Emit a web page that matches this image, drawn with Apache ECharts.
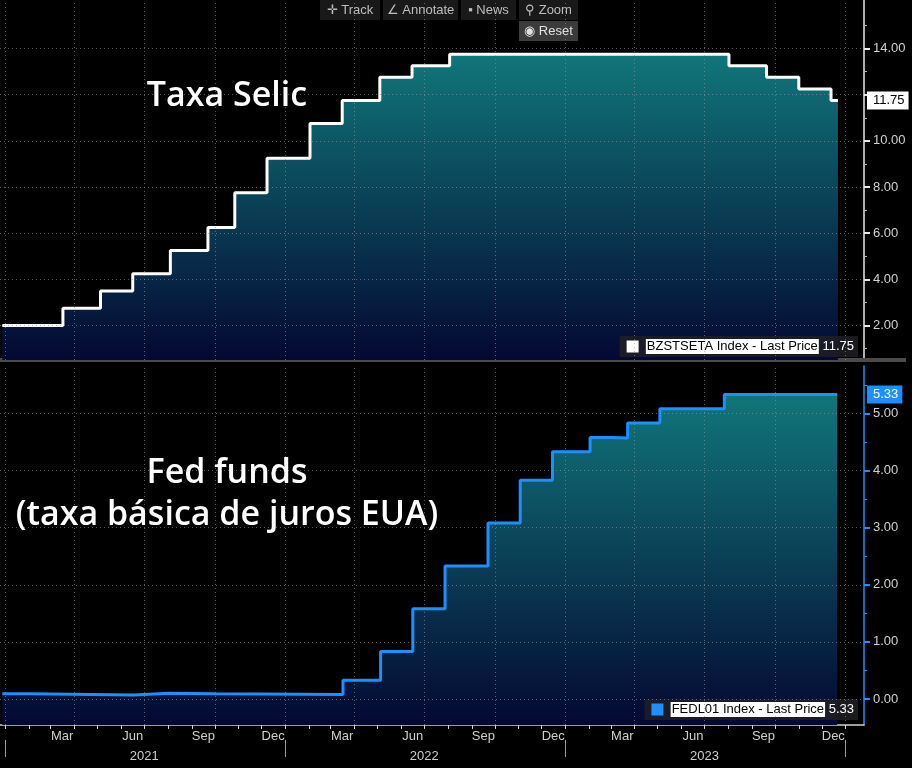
<!DOCTYPE html>
<html>
<head>
<meta charset="utf-8">
<script src="https://cdn.jsdelivr.net/npm/echarts@6/dist/echarts.min.js"></script>
<style>
html,body{margin:0;padding:0;background:#000;}
#chart{width:912px;height:768px;}
</style>
</head>
<body>
<div id="chart"></div>
<script>
// Taxa Selic (BZSTSETA) - datas de mudanca e valor
var selicDates = ['2020-12-28','2021-03-17','2021-05-05','2021-06-16','2021-08-04','2021-09-22','2021-10-27','2021-12-08',
  '2022-02-02','2022-03-16','2022-05-04','2022-06-15','2022-08-03','2023-08-02','2023-09-20','2023-11-01','2023-12-13','2023-12-22'];
var selicValues = [2.00,2.75,3.50,4.25,5.25,6.25,7.75,9.25,10.75,11.75,12.75,13.25,13.75,13.25,12.75,12.25,11.75,11.75];

// Fed funds efetivo (FEDL01)
var fedDates = ['2020-12-28','2021-02-01','2021-06-17','2021-08-02','2021-10-01','2022-03-17','2022-05-05','2022-06-16',
  '2022-07-28','2022-09-22','2022-11-03','2022-12-15','2023-02-02','2023-03-01','2023-03-23','2023-05-04','2023-07-27','2023-12-21'];
var fedValues = [0.09,0.07,0.10,0.09,0.08,0.33,0.83,1.58,2.33,3.08,3.83,4.33,4.58,4.57,4.83,5.08,5.33,5.33];

// eixos
var selicTicks = [2,4,6,8,10,12,14];
var selicLabels = [2,4,6,8,10,14];
var selicMinor = [1,3,5,7,9,11,13,15];
var fedTicks = [0,1,2,3,4,5];
var fedMinor = [0.5,1.5,2.5,3.5,4.5,5.5];
var gridDates = ['2021-01-01','2021-04-01','2021-07-01','2021-10-01','2022-01-01','2022-04-01','2022-07-01','2022-10-01',
  '2023-01-01','2023-04-01','2023-07-01','2023-10-01','2024-01-01'];
var monthLabelDates = ['2021-03-16','2021-06-16','2021-09-16','2021-12-16','2022-03-16','2022-06-16','2022-09-16','2022-12-16',
  '2023-03-16','2023-06-16','2023-09-16','2023-12-16'];
var monthNames = ['Jan','Feb','Mar','Apr','May','Jun','Jul','Aug','Sep','Oct','Nov','Dec'];
var yearLabelDates = ['2021-07-01','2022-07-01','2023-07-01'];
var yearSepDates = ['2021-01-01','2022-01-01','2023-01-01','2024-01-01'];

var monthStarts = [];
for (var y = 2021; y <= 2023; y++) {
  for (var m = 1; m <= 12; m++) monthStarts.push(y + '-' + (m < 10 ? '0' + m : m) + '-01');
}
monthStarts.push('2024-01-01');

var selicName = 'BZSTSETA Index - Last Price';
var fedName = 'FEDL01 Index - Last Price';
var lastSelic = selicValues[selicValues.length - 1];
var lastFed = fedValues[fedValues.length - 1];

function ts(d) { return echarts.number.parseDate(d).getTime(); }
function tsList(arr) { return arr.map(ts); }

var xMin = ts('2020-12-25'), xMax = ts('2024-01-25');
var axisFont = 'Liberation Sans, Arial, sans-serif';
var gridLineStyle = {color: 'rgba(150,150,150,0.6)', type: [1, 3], width: 1};

function pairs(dates, vals) {
  return dates.map(function (d, i) { return [ts(d), vals[i]]; });
}
function gridMarks(ticks) {
  var arr = gridDates.map(function (d) { return {xAxis: ts(d)}; });
  ticks.forEach(function (v) { arr.push({yAxis: v}); });
  return arr;
}
function fillGrad(top, bottom) {
  return new echarts.graphic.LinearGradient(0, 0, 0, 1, [
    {offset: 0, color: top}, {offset: 1, color: bottom}
  ]);
}
function toolBtn(x, y, w, txt, fill, col) {
  return {
    type: 'group', left: x, top: y,
    children: [
      {type: 'rect', shape: {x: 0, y: 0, width: w, height: 20}, style: {fill: fill}},
      {type: 'text', x: w / 2, y: 10, style: {text: txt, fill: col, font: '13px ' + axisFont, align: 'center', verticalAlign: 'middle'}}
    ]
  };
}
// legenda: quadrado colorido desenhado no proprio texto
function legendCfg(name, color, last, top) {
  return {
    data: [{name: name}], right: 54, top: top, icon: 'rect',
    itemWidth: 0, itemHeight: 0, padding: [3, 4, 3, 2], backgroundColor: 'rgba(30,30,36,0.85)',
    formatter: function (n) { return '{s|}  {a|' + n + '} {b|' + last.toFixed(2) + '}'; },
    textStyle: {fontFamily: axisFont, fontSize: 13,
      rich: {s: {width: 12, height: 12, backgroundColor: color},
             a: {backgroundColor: '#fff', color: '#000', padding: [1, 1], fontSize: 13, fontFamily: axisFont},
             b: {color: '#fff', fontSize: 13, fontFamily: axisFont}}}
  };
}

var myChart = echarts.init(document.getElementById('chart'));

var option = {
  backgroundColor: '#000',
  animation: false,
  title: [
    {text: 'Taxa Selic', left: 222, top: 74, textAlign: 'center',
      textStyle: {color: '#fff', fontSize: 34, fontWeight: 600, fontFamily: 'Open Sans'}},
    {text: 'Fed funds\n(taxa básica de juros EUA)', left: 222, top: 447, textAlign: 'center',
      textStyle: {color: '#fff', fontSize: 34, fontWeight: 600, fontFamily: 'Open Sans', lineHeight: 42}}
  ],
  grid: [
    {left: 0, right: 48, top: 0, height: 360},
    {left: 0, right: 48, top: 366, height: 359}
  ],
  legend: [
    legendCfg(selicName, '#ffffff', lastSelic, 336),
    legendCfg(fedName, '#1e8fff', lastFed, 699)
  ],
  xAxis: [
    {type: 'value', gridIndex: 0, position: 'bottom', min: xMin, max: xMax,
      axisLine: {onZero: false, lineStyle: {color: '#4a4a4a', width: 4}},
      axisTick: {show: false}, axisLabel: {show: false}, splitLine: {show: false}},
    {type: 'value', gridIndex: 1, position: 'bottom', min: xMin, max: xMax,
      axisLine: {onZero: false, lineStyle: {color: '#d0d0d0', width: 1.5}},
      axisTick: {customValues: tsList(monthStarts), length: 4, lineStyle: {color: '#d0d0d0'}},
      axisLabel: {customValues: tsList(monthLabelDates), color: '#cfcfcf', fontSize: 13, fontFamily: axisFont, margin: 5,
        formatter: function (v) { return monthNames[new Date(v).getMonth()]; }},
      splitLine: {show: false}},
    {type: 'value', gridIndex: 1, position: 'bottom', offset: 15, min: xMin, max: xMax,
      axisLine: {show: false, onZero: false},
      axisTick: {customValues: tsList(yearSepDates), length: 17, lineStyle: {color: '#9a9a9a'}},
      axisLabel: {customValues: tsList(yearLabelDates), color: '#cfcfcf', fontSize: 13, fontFamily: axisFont, margin: 10,
        formatter: function (v) { return String(new Date(v).getFullYear()); }},
      splitLine: {show: false}}
  ],
  yAxis: [
    {type: 'value', gridIndex: 0, position: 'right', min: 0.51, max: 16.1,
      axisLine: {show: true, onZero: false, lineStyle: {color: '#e8e8e8', width: 1.5}},
      axisTick: {customValues: selicTicks, length: 6, lineStyle: {color: '#e8e8e8', width: 2}},
      axisLabel: {customValues: selicLabels, color: '#d0d0d0', fontSize: 13, fontFamily: axisFont, margin: 9,
        formatter: function (v) { return v.toFixed(2); }},
      splitLine: {show: false}},
    {type: 'value', gridIndex: 0, position: 'right', min: 0.51, max: 16.1,
      axisLine: {show: false, onZero: false},
      axisTick: {customValues: selicMinor, length: 3, lineStyle: {color: '#bbb'}},
      axisLabel: {customValues: [lastSelic], color: '#000', backgroundColor: '#fff', padding: [3, 4, 2, 6],
        fontSize: 13, fontFamily: axisFont, margin: 3, formatter: function (v) { return v.toFixed(2); }},
      splitLine: {show: false}},
    {type: 'value', gridIndex: 1, position: 'right', min: -0.455, max: 5.83,
      axisLine: {show: true, onZero: false, lineStyle: {color: '#1e8fff', width: 1.5}},
      axisTick: {customValues: fedTicks, length: 6, lineStyle: {color: '#1e8fff', width: 2}},
      axisLabel: {customValues: fedTicks, color: '#d0d0d0', fontSize: 13, fontFamily: axisFont, margin: 9,
        formatter: function (v) { return v.toFixed(2); }},
      splitLine: {show: false}},
    {type: 'value', gridIndex: 1, position: 'right', min: -0.455, max: 5.83,
      axisLine: {show: false, onZero: false},
      axisTick: {customValues: fedMinor, length: 3, lineStyle: {color: '#1e8fff'}},
      axisLabel: {customValues: [lastFed], color: '#fff', backgroundColor: '#1e8fff', padding: [3, 4, 2, 6],
        fontSize: 13, fontFamily: axisFont, margin: 3, formatter: function (v) { return v.toFixed(2); }},
      splitLine: {show: false}}
  ],
  series: [
    {name: selicName, type: 'line', xAxisIndex: 0, yAxisIndex: 0, step: 'end', showSymbol: false,
      data: pairs(selicDates, selicValues),
      lineStyle: {color: '#fff', width: 3}, itemStyle: {color: '#fff'},
      areaStyle: {origin: 'start', opacity: 1, color: fillGrad('#10767a', '#040832')},
      markLine: {silent: true, symbol: 'none', label: {show: false}, lineStyle: gridLineStyle,
        data: gridMarks(selicTicks)}},
    {name: fedName, type: 'line', xAxisIndex: 1, yAxisIndex: 2, step: 'end', showSymbol: false,
      data: pairs(fedDates, fedValues),
      lineStyle: {color: '#1e8fff', width: 3}, itemStyle: {color: '#1e8fff'},
      areaStyle: {origin: 'start', opacity: 1, color: fillGrad('#10767a', '#040832')},
      markLine: {silent: true, symbol: 'none', label: {show: false}, lineStyle: gridLineStyle,
        data: gridMarks(fedTicks)}}
  ],
  graphic: [
    toolBtn(320, 0, 60, '\u271B Track', 'rgba(28,28,28,0.9)', '#bdbdbd'),
    toolBtn(383, 0, 75, '\u2220 Annotate', 'rgba(28,28,28,0.9)', '#bdbdbd'),
    toolBtn(461, 0, 55, '\u25AA News', 'rgba(28,28,28,0.9)', '#bdbdbd'),
    toolBtn(519, 0, 59, '\u26B2 Zoom', 'rgba(28,28,28,0.9)', '#bdbdbd'),
    toolBtn(519, 21, 59, '\u25C9 Reset', 'rgba(62,62,62,0.95)', '#e0e0e0'),
    {type: 'rect', left: 864, top: 358, shape: {width: 42, height: 4}, style: {fill: '#4a4a4a'}}
  ]
};

myChart.setOption(option);
</script>
</body>
</html>
